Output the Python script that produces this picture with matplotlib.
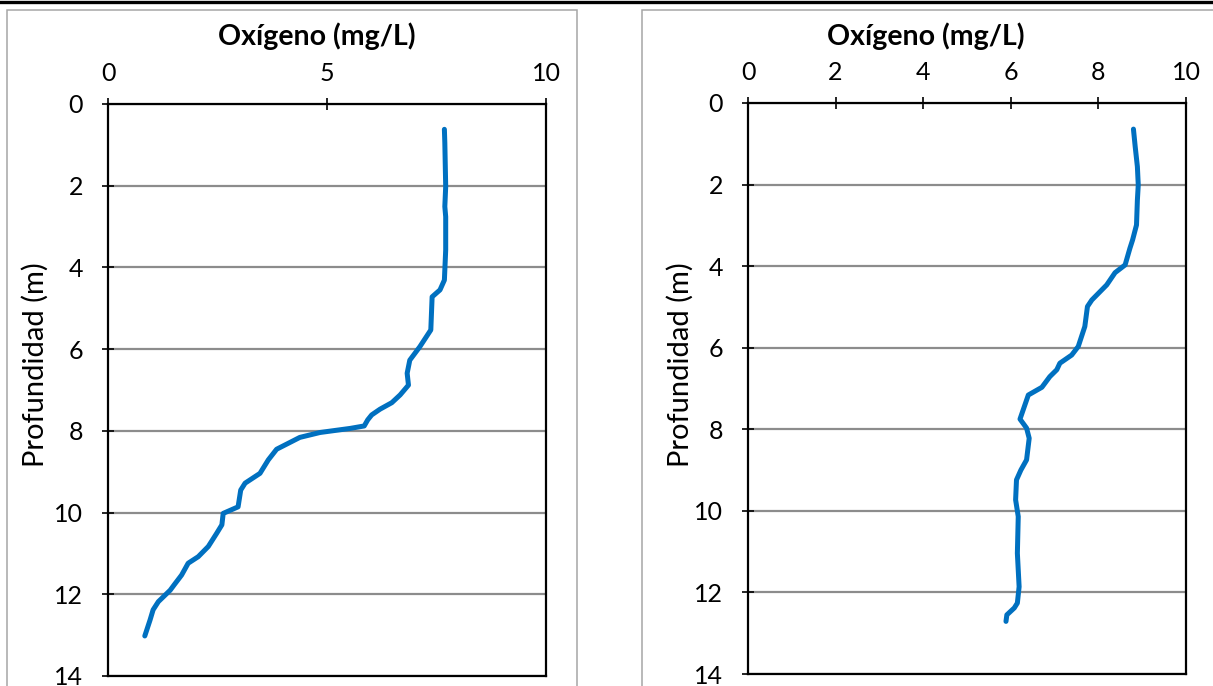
import matplotlib
matplotlib.use("Agg")
import matplotlib.pyplot as plt
from matplotlib.patches import Rectangle
from matplotlib.lines import Line2D

plt.rcParams['font.family'] = ['Lato', 'DejaVu Sans']

# perfil 1 (izquierda)
oxigeno_1 = [7.68, 7.69, 7.71, 7.69, 7.71, 7.71, 7.68, 7.58, 7.40, 7.37, 7.12, 6.89, 6.83,
             6.86, 6.67, 6.48, 6.21, 6.02, 5.93, 5.85, 5.53, 4.84, 4.38, 3.85, 3.66, 3.47,
             3.13, 3.03, 2.97, 2.63, 2.60, 2.48, 2.29, 2.06, 1.83, 1.68, 1.51, 1.42, 1.15,
             1.03, 0.96, 0.84]
profundidad_1 = [0.62, 0.95, 2.02, 2.51, 2.76, 3.57, 4.31, 4.55, 4.72, 5.53, 5.94, 6.27, 6.59,
                 6.88, 7.12, 7.31, 7.47, 7.61, 7.73, 7.88, 7.94, 8.04, 8.16, 8.45, 8.71, 9.04,
                 9.28, 9.45, 9.86, 10.02, 10.30, 10.51, 10.83, 11.08, 11.24, 11.53, 11.77, 11.90,
                 12.18, 12.38, 12.63, 13.02]

# perfil 2 (derecha)
oxigeno_2 = [8.80, 8.84, 8.89, 8.91, 8.89, 8.87, 8.78, 8.72, 8.61, 8.38, 8.19, 7.85, 7.75,
             7.69, 7.54, 7.39, 7.12, 7.05, 6.89, 6.71, 6.40, 6.21, 6.36, 6.42, 6.36, 6.23,
             6.13, 6.11, 6.17, 6.15, 6.19, 6.15, 6.08, 5.91, 5.89]
profundidad_2 = [0.64, 1.07, 1.56, 2.01, 2.38, 2.99, 3.36, 3.56, 3.97, 4.16, 4.46, 4.83, 4.99,
                 5.48, 5.97, 6.18, 6.38, 6.54, 6.71, 6.97, 7.16, 7.75, 7.97, 8.22, 8.75, 9.00,
                 9.24, 9.73, 10.14, 11.04, 11.86, 12.26, 12.38, 12.55, 12.71]

ticks_x_1 = [0, 5, 10]
ticks_x_2 = [0, 2, 4, 6, 8, 10]
ticks_y = [0, 2, 4, 6, 8, 10, 12, 14]

W, H = 1213, 686
fig = plt.figure(figsize=(W / 100, H / 100), dpi=100)

# marcos de cada grafico y linea superior
fig.add_artist(Line2D([0, 1], [1 - 1.5 / H, 1 - 1.5 / H], color='black', lw=2.4,
                      transform=fig.transFigure))
fig.add_artist(Rectangle((7 / W, -0.05), 570 / W, 1.05 - 10 / H, transform=fig.transFigure,
                         fill=False, edgecolor='#a6a6a6', lw=1.1))
fig.add_artist(Rectangle((642 / W, -0.05), 0.5, 1.05 - 10 / H, transform=fig.transFigure,
                         fill=False, edgecolor='#a6a6a6', lw=1.1))


def panel(left_px, right_px, top_px, bottom_px, x, y, xticks, title_x, ylabel_x):
    ax = fig.add_axes([left_px / W, 1 - bottom_px / H, (right_px - left_px) / W,
                       (bottom_px - top_px) / H])
    ax.plot(x, y, color='#0070C0', lw=3.6, solid_capstyle='round', solid_joinstyle='round')
    ax.set_xlim(0, 10)
    ax.set_ylim(14, 0)
    ax.set_xticks(xticks)
    ax.set_yticks(ticks_y)
    ax.xaxis.tick_top()
    ax.tick_params(axis='both', direction='inout', length=8, width=1.2, labelsize=18,
                   colors='black')
    ax.tick_params(axis='x', pad=10)
    ax.tick_params(axis='y', pad=14)
    for s in ax.spines.values():
        s.set_color('black')
        s.set_linewidth(1.6)
    ax.yaxis.grid(True, color='#8c8c8c', lw=1.6)
    ax.set_axisbelow(True)
    fig.text(title_x / W, 1 - 36 / H, 'Oxígeno (mg/L)', ha='center', va='center',
             fontsize=20.5, fontweight='bold')
    fig.text(ylabel_x / W, 1 - 365 / H, 'Profundidad (m)', ha='center', va='center',
             rotation=90, fontsize=21)
    return ax


panel(108, 546, 104, 676, oxigeno_1, profundidad_1, ticks_x_1, 317, 35)
panel(748, 1186, 103, 674, oxigeno_2, profundidad_2, ticks_x_2, 926, 680)

fig.savefig('out.png', dpi=100)
